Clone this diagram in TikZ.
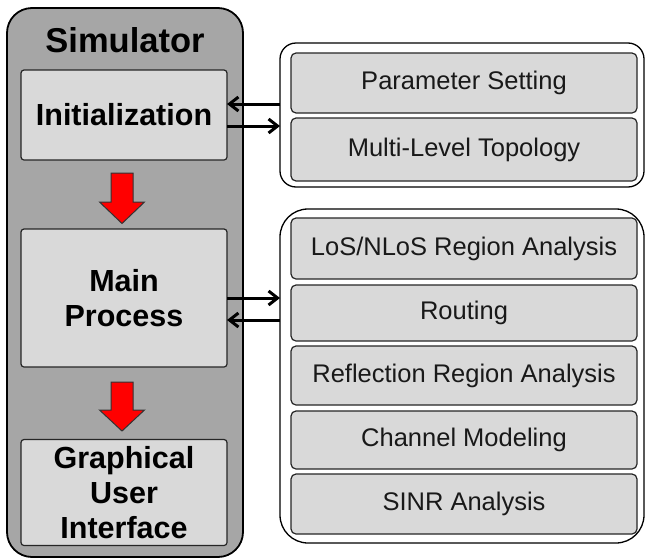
\documentclass[tikz,border=0pt]{standalone}
\usepackage{fontspec}
\setmainfont{Liberation Sans}
\usetikzlibrary{arrows.meta,calc}
\definecolor{simgray}{HTML}{A6A6A6}
\definecolor{boxgray}{HTML}{D9D9D9}
\begin{document}
\begin{tikzpicture}[x=1pt,y=-1pt,
  frame/.style={draw=black, line width=1.8pt, fill=simgray, rounded corners=25pt,
    inner sep=0pt, outer sep=0pt},
  stage/.style={draw=black!85, line width=1.2pt, fill=boxgray, rounded corners=3pt,
    minimum width=206pt, inner sep=0pt, outer sep=0pt, align=center,
    font=\fontsize{30.5}{35}\selectfont\bfseries},
  group/.style={draw=black, line width=1.3pt, fill=white, inner sep=0pt, outer sep=0pt},
  task/.style={draw=black!85, line width=1.2pt, fill=boxgray, rounded corners=5pt,
    minimum width=346pt, inner sep=0pt, outer sep=0pt,
    font=\fontsize{25.5}{29}\selectfont, text=black!90},
  conn/.style={line width=3pt, -{Straight Barb[length=9pt,width=14pt]}},
  redarr/.style={draw=black!80, line width=1pt, fill=red, line join=miter}
]
\useasboundingbox (0,0) rectangle (646,560);

% simulator column
\node[frame, minimum width=236pt, minimum height=549pt] (sim) at (125,282.5) {};
\node[font=\fontsize{34.5}{40}\selectfont\bfseries] (title) at (125,40.5) {Simulator};
\node[stage, minimum height=90pt] (init) at (124,115) {Initialization};
\node[stage, minimum height=138pt] (main) at (124,298) {Main\\Process};
\node[stage, minimum height=106pt] (gui) at (124,492.5) {Graphical\\User\\Interface};

% flow arrows between stages
\draw[redarr] ($(init.south)+(-13,13)$) -- ++(22,0) -- ++(0,29) -- ++(11.5,0)
  -- ++(-22.5,21.5) -- ++(-22.5,-21.5) -- ++(11.5,0) -- cycle;
\draw[redarr] ($(main.south)+(-13,15)$) -- ++(22,0) -- ++(0,28) -- ++(11.5,0)
  -- ++(-22.5,21) -- ++(-22.5,-21) -- ++(11.5,0) -- cycle;

% initialization modules
\node[group, rounded corners=16pt, minimum width=364pt, minimum height=144pt] (g1) at (462,115) {};
\node[task, minimum height=60pt] (ps) at (464,83) {Parameter Setting};
\node[task, minimum height=63pt] (mlt) at (464,149.5) {Multi-Level Topology};

% main process modules
\node[group, rounded corners=28pt, minimum width=364pt, minimum height=334pt] (g2) at (462,376) {};
\node[task, minimum height=61pt] (los) at (464,248.5) {LoS/NLoS Region Analysis};
\node[task, minimum height=56pt] (rout) at (464,313) {Routing};
\node[task, minimum height=59pt] (refl) at (464,375.5) {Reflection Region Analysis};
\node[task, minimum height=58pt] (chan) at (464,440) {Channel Modeling};
\node[task, minimum height=60pt] (sinr) at (464,504) {SINR Analysis};

% data exchange
\draw[conn] ($(g1.west)+(0,-11)$) -- ($(init.east)+(0,-11)$);
\draw[conn] ($(init.east)+(0,11)$) -- ($(g1.west)+(0,11)$);
\draw[conn] (main.east) -- (main.east -| g2.west);
\draw[conn] ($(main.east -| g2.west)+(0,22)$) -- ($(main.east)+(0,22)$);
\end{tikzpicture}
\end{document}
